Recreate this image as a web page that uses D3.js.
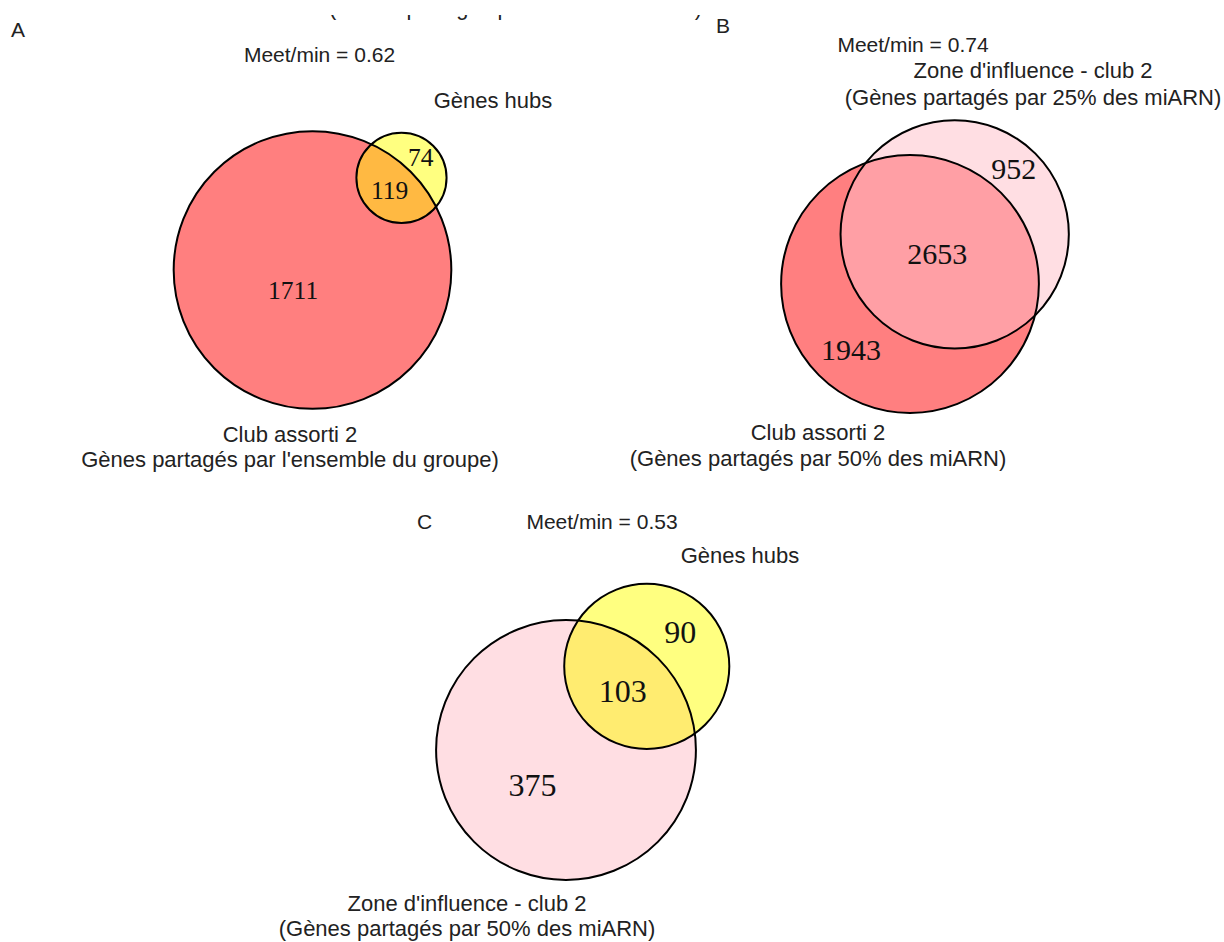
<!DOCTYPE html>
<html>
<head>
<meta charset="utf-8">
<script src="https://cdn.jsdelivr.net/npm/d3@7"></script>
<style>
  html, body { margin: 0; padding: 0; background: #fff; }
  svg { display: block; }
</style>
</head>
<body>
<svg id="chart" width="1224" height="942"></svg>
<script>
// ---------------- DATA ----------------
const panelIds    = ["A", "B", "C"];
const meetMin     = ["Meet/min = 0.62", "Meet/min = 0.74", "Meet/min = 0.53"];
const onlyFirst   = [1711, 1943, 375];   // genes only in first (larger) set
const shared      = [119, 2653, 103];    // genes in both sets
const onlySecond  = [74, 952, 90];       // genes only in second set
const firstNames  = [
  ["Club assorti 2", "Gènes partagés par l'ensemble du groupe)"],
  ["Club assorti 2", "(Gènes partagés par 50% des miARN)"],
  ["Zone d'influence - club 2", "(Gènes partagés par 50% des miARN)"]
];
const secondNames = [
  ["Gènes hubs"],
  ["Zone d'influence - club 2", "(Gènes partagés par 25% des miARN)"],
  ["Gènes hubs"]
];
const croppedTitle = "(Gènes partagés par 25% des miARN)";

// ---------------- STYLE / LAYOUT ----------------
const firstFill  = ["#ff7f7f", "#ff7f80", "#ffdee3"];
const secondFill = ["#ffff80", "#ffdee3", "#ffff80"];
const sharedFill = ["#ffb942", "#ff9fa5", "#ffec70"];
const unionArea  = 63000;                 // px^2 used by the union in every panel
const anchor     = [[312.5, 270], [910, 284], [566, 750]]; // centre of first circle
const axisAngle  = [-46, -48, -46];       // direction first -> second circle (deg)
const numSize    = [25.5, 30, 32];
const letterPos  = [[11, 37], [716, 33], [417, 529]];
const meetPos    = [[319.5, 62], [913, 52], [602, 529]];
const firstLabelPos  = [[290, 442, 467], [818, 440, 466], [467, 911, 936]];
const secondLabelPos = [[493, 108], [1033, 78, 105], [740, 563]];

const svg = d3.select("#chart");
const textColor = "#222";
const sans = "'Liberation Sans', Arial, Helvetica, sans-serif";
const serif = "'Liberation Serif', 'Times New Roman', serif";

// cropped title at the very top (only descenders visible in the source)
svg.append("text")
  .attr("x", 329).attr("y", 15)
  .attr("font-family", sans).attr("font-size", 21.8).attr("fill", textColor)
  .text(croppedTitle);
svg.append("rect").attr("x", 0).attr("y", 0).attr("width", 1224).attr("height", 15)
  .attr("fill", "#fff");

function lensArea(r1, r2, d) {
  if (d >= r1 + r2) return 0;
  if (d <= Math.abs(r1 - r2)) return Math.PI * Math.min(r1, r2) ** 2;
  const a = r1 * r1 * Math.acos((d * d + r1 * r1 - r2 * r2) / (2 * d * r1));
  const b = r2 * r2 * Math.acos((d * d + r2 * r2 - r1 * r1) / (2 * d * r2));
  const c = 0.5 * Math.sqrt((-d + r1 + r2) * (d + r1 - r2) * (d - r1 + r2) * (d + r1 + r2));
  return a + b - c;
}

panelIds.forEach((id, i) => {
  const total = onlyFirst[i] + shared[i] + onlySecond[i];
  const rScale = d3.scaleSqrt().domain([0, total]).range([0, Math.sqrt(unionArea / Math.PI)]);
  const areaScale = d3.scaleLinear().domain([0, total]).range([0, unionArea]);
  const r1 = rScale(onlyFirst[i] + shared[i]);
  const r2 = rScale(onlySecond[i] + shared[i]);
  const target = areaScale(shared[i]);
  // bisection for centre distance giving an area-proportional overlap
  let lo = Math.abs(r1 - r2), hi = r1 + r2;
  for (let k = 0; k < 60; k++) {
    const mid = (lo + hi) / 2;
    if (lensArea(r1, r2, mid) > target) lo = mid; else hi = mid;
  }
  const d = (lo + hi) / 2;
  const ang = axisAngle[i] * Math.PI / 180;
  const ux = Math.cos(ang), uy = Math.sin(ang);
  const [cx1, cy1] = anchor[i];
  const pt = t => [cx1 + ux * t, cy1 + uy * t];
  const [cx2, cy2] = pt(d);

  const g = svg.append("g");
  g.append("circle").attr("cx", cx1).attr("cy", cy1).attr("r", r1).attr("fill", firstFill[i]);
  g.append("circle").attr("cx", cx2).attr("cy", cy2).attr("r", r2).attr("fill", secondFill[i]);
  const clipId = "clip" + id;
  g.append("clipPath").attr("id", clipId)
    .append("circle").attr("cx", cx2).attr("cy", cy2).attr("r", r2);
  g.append("circle").attr("cx", cx1).attr("cy", cy1).attr("r", r1)
    .attr("fill", sharedFill[i]).attr("clip-path", `url(#${clipId})`);
  [[cx1, cy1, r1], [cx2, cy2, r2]].forEach(([x, y, r]) => {
    g.append("circle").attr("cx", x).attr("cy", y).attr("r", r)
      .attr("fill", "none").attr("stroke", "#000").attr("stroke-width", 2);
  });

  // numbers at the middle of each region along the axis
  const regions = [
    [onlyFirst[i], (-r1 + (d - r2)) / 2],
    [shared[i], ((d - r2) + r1) / 2],
    [onlySecond[i], (r1 + (d + r2)) / 2]
  ];
  regions.forEach(([v, t]) => {
    const [x, y] = pt(t);
    g.append("text").attr("x", x).attr("y", y)
      .attr("text-anchor", "middle").attr("dominant-baseline", "central")
      .attr("font-family", serif).attr("font-size", numSize[i]).attr("fill", "#111")
      .text(v);
  });

  // panel letter and meet/min
  svg.append("text").attr("x", letterPos[i][0]).attr("y", letterPos[i][1])
    .attr("font-family", sans).attr("font-size", 21).attr("fill", textColor).text(id);
  svg.append("text").attr("x", meetPos[i][0]).attr("y", meetPos[i][1])
    .attr("text-anchor", "middle")
    .attr("font-family", sans).attr("font-size", 21).attr("fill", textColor).text(meetMin[i]);

  firstNames[i].forEach((s, j) => {
    svg.append("text").attr("x", firstLabelPos[i][0]).attr("y", firstLabelPos[i][1 + j])
      .attr("text-anchor", "middle")
      .attr("font-family", sans).attr("font-size", 22).attr("fill", textColor).text(s);
  });
  secondNames[i].forEach((s, j) => {
    svg.append("text").attr("x", secondLabelPos[i][0]).attr("y", secondLabelPos[i][1 + j])
      .attr("text-anchor", "middle")
      .attr("font-family", sans).attr("font-size", 22).attr("fill", textColor).text(s);
  });
});
</script>
</body>
</html>
